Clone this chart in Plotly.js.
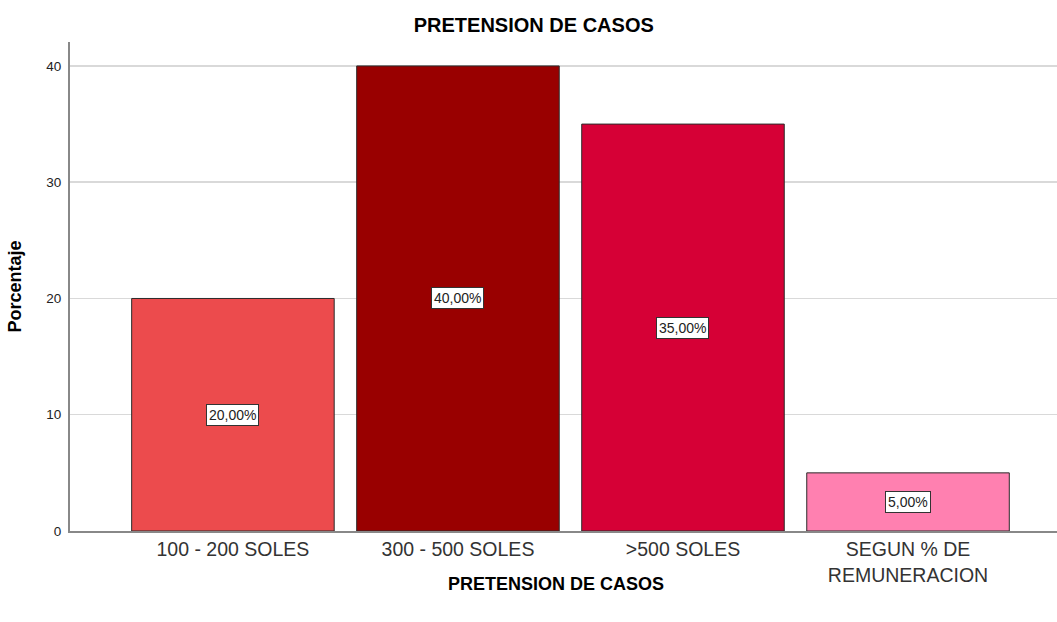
<!DOCTYPE html>
<html><head><meta charset="utf-8">
<script src="https://cdn.plot.ly/plotly-3.0.1.min.js"></script>
<style>html,body{margin:0;padding:0;background:#fff;}#chart{width:1057px;height:622px;}</style>
</head><body><div id="chart"></div>
<script>
const categories = ["100 - 200 SOLES", "300 - 500 SOLES", ">500 SOLES", "SEGUN % DE<br>REMUNERACION"];
const values = [20, 40, 35, 5];
const labels = ["20,00%", "40,00%", "35,00%", "5,00%"];
const colors = ["#EC4B4D", "#990000", "#D60036", "#FF80B0"];
const yTicks = [0, 10, 20, 30, 40];

const FONT = "Arial, 'Liberation Sans', sans-serif";

const trace = {
  type: "bar",
  x: categories,
  y: values,
  marker: {color: colors, line: {color: "#2b2b2b", width: 1}},
  hoverinfo: "skip"
};

const annotations = categories.map((c, i) => ({
  x: c, y: values[i] / 2, xref: "x", yref: "y",
  text: labels[i], showarrow: false,
  font: {family: FONT, size: 14, color: "#222"},
  bgcolor: "#ffffff", bordercolor: "#333333", borderwidth: 1, borderpad: 2
}));

annotations.push({
  xref: "paper", yref: "paper", x: 0.4924, y: -0.108,
  xanchor: "center", yanchor: "middle", showarrow: false,
  text: "<b>PRETENSION DE CASOS</b>",
  font: {family: FONT, size: 18, color: "#000"}
});

const layout = {
  width: 1057, height: 622,
  margin: {l: 70, r: 0, t: 42, b: 91},
  paper_bgcolor: "#fff", plot_bgcolor: "#fff",
  showlegend: false,
  bargap: 0.1,
  title: {text: "<b>PRETENSION DE CASOS</b>", font: {family: FONT, size: 20, color: "#000"}, x: 0.505, xanchor: "center", y: 0.9606, yanchor: "middle"},
  xaxis: {
    range: [-0.724, 3.662],
    showline: true, linecolor: "#888", linewidth: 2,
    ticks: "", showgrid: false, zeroline: false,
    tickfont: {family: FONT, size: 19.5, color: "#333"}
  },
  yaxis: {
    range: [0, 42.06],
    tickvals: yTicks,
    showline: true, linecolor: "#888", linewidth: 2,
    ticks: "", ticklabelstandoff: 4,
    showgrid: true, gridcolor: "#d9d9d9", gridwidth: 1.5,
    zeroline: false,
    tickfont: {family: FONT, size: 13.5, color: "#222"},
    title: {text: "<b>Porcentaje</b>", font: {family: FONT, size: 18, color: "#000"}, standoff: 20}
  },
  annotations: annotations
};

Plotly.newPlot("chart", [trace], layout, {displayModeBar: false, staticPlot: true});
</script>
</body></html>
